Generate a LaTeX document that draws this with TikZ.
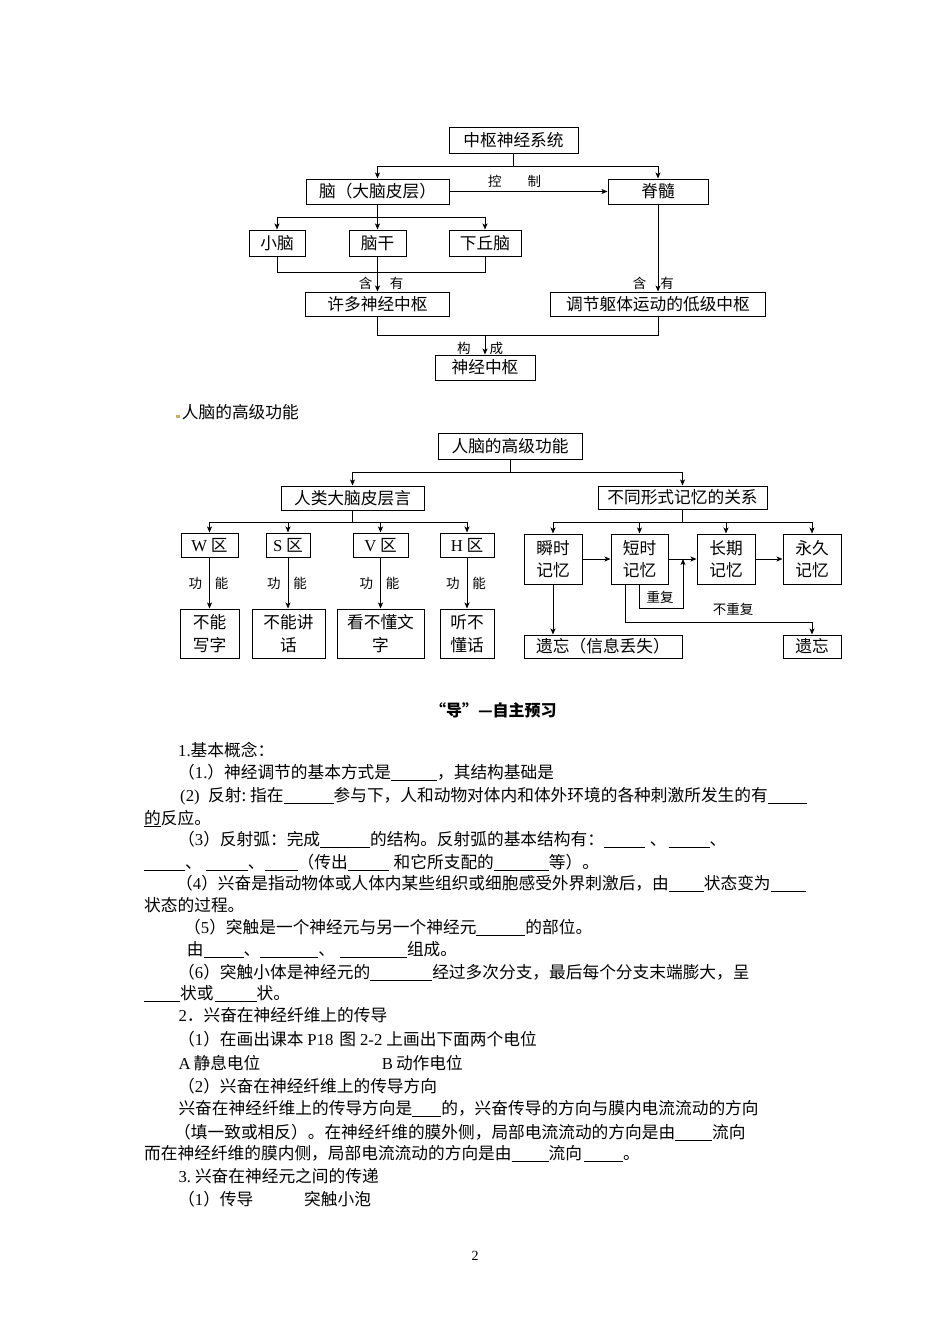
\documentclass[tikz,border=0pt]{standalone}
\usepackage{fontspec}
\newfontfamily\cjk{Noto Sans CJK SC}
\newfontfamily\lat{Liberation Serif}
\usetikzlibrary{arrows.meta}
\definecolor{mk}{RGB}{196,178,96}
\newcounter{tn}
\newcommand\bl[1]{\rule[-2.5pt]{#1pt}{0.8pt}}
\newcommand\la[1]{{\lat #1}}
\newcommand\tx[3]{\stepcounter{tn}\node[txt] (t\arabic{tn}) at (#1,{#2+6.3}) {#3};}
\newcommand\bx[6]{\node[bx,minimum width={#4-#2},minimum height={#5-#3}] (#1) at ({(#2+#4)/2},{(#3+#5)/2}) {#6};}
\begin{document}
\begin{tikzpicture}[x=1pt,y=-1pt,
  every node/.style={font=\cjk\fontsize{16.7}{22.5}\selectfont},
  txt/.style={anchor=base west,inner sep=0pt},
  bx/.style={draw,line width=1pt,inner sep=0pt,align=center},
  lab/.style={inner sep=0pt,font=\cjk\fontsize{13.5}{13.5}\selectfont},
  ln/.style={line width=0.9pt},
  arr/.style={line width=0.9pt,-{Stealth[length=6pt,width=5pt,inset=1.5pt]}}]
\useasboundingbox (0,0) rectangle (950,1344);
\fill[white] (0,0) rectangle (950,1344);

% ---------- diagram 1 ----------
\bx{A}{449}{127}{578}{153}{中枢神经系统}
\bx{B}{306}{179}{449}{204}{脑（大脑皮层）}
\bx{C}{608}{179}{708}{204}{脊髓}
\bx{D}{249}{230}{305}{256}{小脑}
\bx{E}{349}{230}{406}{256}{脑干}
\bx{F}{449}{230}{521}{256}{下丘脑}
\bx{G}{305.5}{292}{449.5}{316}{许多神经中枢}
\bx{H}{550.5}{292}{765.5}{316}{调节躯体运动的低级中枢}
\bx{I}{435}{355}{535}{380}{神经中枢}

\coordinate (y1) at (0,166);
\coordinate (y2) at (0,217);
\coordinate (y3) at (0,272);
\coordinate (y4) at (0,335);
\draw[ln] (A.south) -- (A.south|-y1);
\draw[arr] (A.south|-y1) -| (B.north);
\draw[arr] (A.south|-y1) -| (C.north);
\draw[arr] (B.east) -- (C.west);
\node[lab] (ctl) at (514.6,181) {控\hspace{26pt}制};
\draw[ln] (B.south) -- (B.south|-y2);
\draw[arr] (B.south|-y2) -| (D.north);
\draw[arr] (B.south|-y2) -| (F.north);
\draw[arr] (B.south|-y2) -- (E.north);
\draw[ln] (D.south) -- (D.south|-y3) -- (F.south|-y3) -- (F.south);
\draw[arr] (E.south) -- (G.north);
\node[lab] (hy1) at (381,283) {含\hspace{17.5pt}有};
\draw[arr] (C.south) -- (H.north);
\node[lab] (hy2) at (653.3,283) {含\hspace{14pt}有};
\draw[ln] (G.south) -- (G.south|-y4) -- (H.south|-y4) -- (H.south);
\draw[arr] (I.north|-y4) -- (I.north);
\node[lab] (gc) at (480,348) {构\hspace{19pt}成};

% ---------- heading ----------
\fill[mk] (176,415) rectangle (179.5,417.5);
\tx{181.7}{411.7}{人脑的高级功能}

% ---------- diagram 2 ----------
\bx{J}{438}{433}{582}{459}{人脑的高级功能}
\bx{K}{281}{486}{424}{510}{人类大脑皮层言}
\bx{L}{598}{486}{767}{509}{不同形式记忆的关系}
\bx{W}{181}{533}{238}{557}{\la{W} 区}
\bx{S}{266}{533}{310}{557}{\la{S} 区}
\bx{V}{353}{533}{408}{557}{\la{V} 区}
\bx{Hq}{440}{533}{494}{557}{\la{H} 区}
\bx{W2}{180}{609}{239}{658}{不能\\写字}
\bx{S2}{252}{609}{325}{658}{不能讲\\话}
\bx{V2}{337}{609}{424}{658}{看不懂文\\字}
\bx{H2}{440}{609}{494}{658}{听不\\懂话}
\bx{M}{524}{534}{582}{584}{瞬时\\记忆}
\bx{N}{611}{534}{668}{584}{短时\\记忆}
\bx{O}{697}{534}{755}{584}{长期\\记忆}
\bx{P}{783}{534}{841}{584}{永久\\记忆}
\bx{Q}{524}{635}{682}{658}{遗忘（信息丢失）}
\bx{R}{783}{635}{841}{658}{遗忘}

\coordinate (y5) at (0,472);
\coordinate (y6) at (0,522);
\draw[ln] (J.south) -- (J.south|-y5);
\draw[arr] (J.south|-y5) -| (K.north);
\draw[arr] (J.south|-y5) -| (L.north);
\draw[ln] (K.south) -- (K.south|-y6);
\draw[arr] (K.south|-y6) -| (W.north);
\draw[arr] (K.south|-y6) -| (S.north);
\draw[arr] (K.south|-y6) -| (V.north);
\draw[arr] (K.south|-y6) -| (Hq.north);
\foreach \u/\l in {W/W2,S/S2,V/V2,Hq/H2}{
  \draw[arr] (\u.south) -- node[lab,left=7pt] (f\u) {功} node[lab,right=5pt] (g\u) {能} (\u.south|-\l.north);
}
\draw[ln] (L.south) -- (L.south|-y6);
\draw[arr] (L.south|-y6) -| (M.north);
\draw[arr] (L.south|-y6) -| (N.north);
\draw[arr] (L.south|-y6) -| (O.north);
\draw[arr] (L.south|-y6) -| (P.north);
\draw[arr] (M.east) -- (N.west);
\draw[arr] (N.east) -- (O.west);
\draw[arr] (O.east) -- (P.west);
\coordinate (r1) at (683,608);
\draw[arr] (N.south) |- (r1) -- (r1|-N.east);
\node[lab] (cf) at (660,597) {重复};
\coordinate (r2) at (625,622);
\draw[arr] (r2|-N.south) -- (r2) -| (R.north);
\node[lab] (bcf) at (733,609) {不重复};
\draw[arr] (M.south) -- (M.south|-Q.north);

% ---------- body text ----------
\node[font=\cjk\bfseries\fontsize{16}{16}\selectfont,inner sep=0pt] (hd) at (493.4,710) {“导”—自主预习};
\tx{178}{750}{\la{1.}基本概念：}
\tx{178}{771.7}{（\la{1.}）神经调节的基本方式是\bl{46}，其结构基础是}
\tx{180}{795}{\makebox[28pt][l]{\la{(2)}}反射:\hspace{4pt}指在\bl{50}参与下，人和动物对体内和体外环境的各种刺激所发生的有\bl{39}}
\tx{144}{817.7}{\underline{的}反应。}
\tx{178}{839}{（\la{3}）反射弧：完成\bl{50}的结构。反射弧的基本结构有：\bl{41}\hspace{5pt}、\hspace{2pt}\bl{41}、}
\tx{144}{861.7}{\bl{41}、\hspace{4pt}\bl{42}、\bl{33}（传出\bl{41}\hspace{5pt}和它所支配的\bl{55}等）。}
\tx{176}{883.3}{（\la{4}）兴奋是指动物体或人体内某些组织或细胞感受外界刺激后，由\bl{35}状态变为\bl{35}}
\tx{144}{905}{状态的过程。}
\tx{184}{927.3}{（\la{5}）突触是一个神经元与另一个神经元\bl{49}的部位。}
\tx{186.7}{949.3}{由\bl{40}、\bl{58}、\hspace{5pt}\bl{67}组成。}
\tx{178}{971.7}{（\la{6}）突触小体是神经元的\bl{62}经过多次分支，最后每个分支末端膨大，呈}
\tx{144}{993.3}{\bl{36}状或\hspace{1pt}\bl{42}状。}
\tx{178.3}{1015}{\la{2}．兴奋在神经纤维上的传导}
\tx{178}{1039.3}{（\la{1}）在画出课本\hspace{4pt}\la{P18}\hspace{6pt}图\hspace{4pt}\la{2-2}\hspace{4pt}上画出下面两个电位}
\tx{178.3}{1062.7}{\la{A}\hspace{3pt}静息电位}
\tx{381.7}{1062.7}{\la{B}\hspace{3pt}动作电位}
\tx{178}{1086}{（\la{2}）兴奋在神经纤维上的传导方向}
\tx{178.3}{1108.3}{兴奋在神经纤维上的传导方向是\bl{29}的，兴奋传导的方向与膜内电流流动的方向}
\tx{174}{1131.7}{（填一致或相反）。在神经纤维的膜外侧，局部电流流动的方向是由\bl{37}流向}
\tx{144}{1153.3}{而在神经纤维的膜内侧，局部电流流动的方向是由\bl{37}流向\hspace{2pt}\bl{39}。}
\tx{178.3}{1176}{\la{3.}\hspace{4pt}兴奋在神经元之间的传递}
\tx{178}{1199.3}{（\la{1}）传导}
\tx{304}{1199.3}{突触小泡}
\node[font=\lat\fontsize{14}{14}\selectfont,inner sep=0pt] (pg) at (475,1256) {2};
\end{tikzpicture}
\end{document}
